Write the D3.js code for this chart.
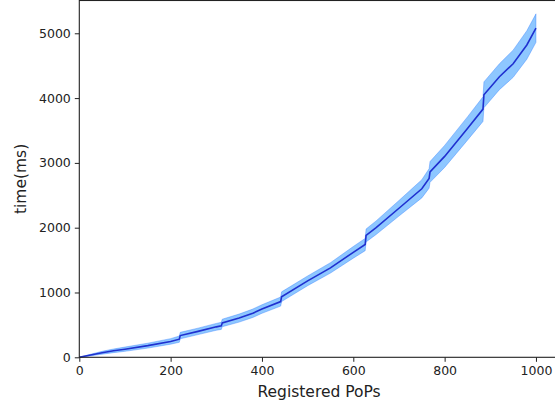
<!DOCTYPE html>
<html><head><meta charset="utf-8">
<script src="https://cdn.jsdelivr.net/npm/d3@7"></script>
<style>body{margin:0;background:#fff}svg{display:block}text{font-family:"DejaVu Sans",sans-serif;fill:#222}</style>
</head><body><svg id="c" width="555" height="406"></svg>
<script>
const pops   = [0, 25, 50, 75, 100, 150, 200, 219, 221, 260, 300, 311, 313, 350, 380, 400, 441, 443, 500, 550, 600, 626, 628, 650, 700, 750, 766, 768, 800, 850, 884, 886, 920, 950, 980, 1000];
const meanMs = [0, 35, 70, 100, 125, 180, 245, 280, 335, 400, 470, 485, 530, 605, 680, 745, 860, 935, 1180, 1380, 1620, 1740, 1880, 2000, 2300, 2600, 2760, 2860, 3100, 3530, 3830, 4050, 4330, 4530, 4820, 5080];
const lowMs  = [0, 22, 48, 72, 92, 142, 202, 232, 285, 350, 417, 430, 472, 543, 615, 679, 790, 860, 1105, 1300, 1530, 1645, 1780, 1895, 2180, 2460, 2610, 2700, 2930, 3350, 3640, 3850, 4130, 4320, 4600, 4860];
const highMs = [0, 48, 92, 128, 158, 218, 288, 328, 385, 450, 523, 540, 588, 667, 745, 811, 930, 1010, 1255, 1460, 1710, 1835, 1980, 2105, 2420, 2740, 2910, 3020, 3270, 3710, 4020, 4250, 4530, 4740, 5040, 5300];
const xTicks = [0, 200, 400, 600, 800, 1000];
const yTicks = [0, 1000, 2000, 3000, 4000, 5000];

const svg = d3.select("#c");
const L = 79.3, B = 357.3, T = 0.5, R = 558.8;
const x = d3.scaleLinear().domain([0, 1050]).range([L, R]);
const y = d3.scaleLinear().domain([0, 5506]).range([B, T]);
const data = pops.map((p, i) => ({p, m: meanMs[i], lo: lowMs[i], hi: highMs[i]}));

svg.append("path").datum(data)
  .attr("d", d3.area().x(d => x(d.p)).y0(d => y(d.lo)).y1(d => y(d.hi)))
  .attr("fill", "#1e90ff").attr("fill-opacity", 0.5)
  .attr("stroke", "#1e70ff").attr("stroke-opacity", 0.35).attr("stroke-width", 1);
svg.append("path").datum(data)
  .attr("d", d3.line().x(d => x(d.p)).y(d => y(d.m)))
  .attr("fill", "none").attr("stroke", "#1f30d0").attr("stroke-width", 1.6);

const gx = svg.append("g").attr("transform", `translate(0,${B})`)
  .call(d3.axisBottom(x).tickValues(xTicks).tickSize(4.5).tickPadding(4).tickFormat(d3.format("d")));
const gy = svg.append("g").attr("transform", `translate(${L},0)`)
  .call(d3.axisLeft(y).tickValues(yTicks).tickSize(4.5).tickPadding(4).tickFormat(d3.format("d")));
[gx, gy].forEach(g => {
  g.selectAll("text").attr("font-size", "12.5px").attr("font-family", "DejaVu Sans").attr("fill", "#222");
  g.selectAll("line").attr("stroke", "#222").attr("stroke-width", 1);
  g.select(".domain").remove();
});
svg.append("rect").attr("x", L).attr("y", T).attr("width", R - L).attr("height", B - T)
  .attr("fill", "none").attr("stroke", "#222").attr("stroke-width", 1.1);

svg.append("text").attr("x", (L + R) / 2).attr("y", 397).attr("text-anchor", "middle")
  .attr("font-size", "15.5px").text("Registered PoPs");
svg.append("text").attr("transform", `translate(26,${(T + B) / 2}) rotate(-90)`).attr("text-anchor", "middle")
  .attr("font-size", "15.5px").text("time(ms)");
</script></body></html>
